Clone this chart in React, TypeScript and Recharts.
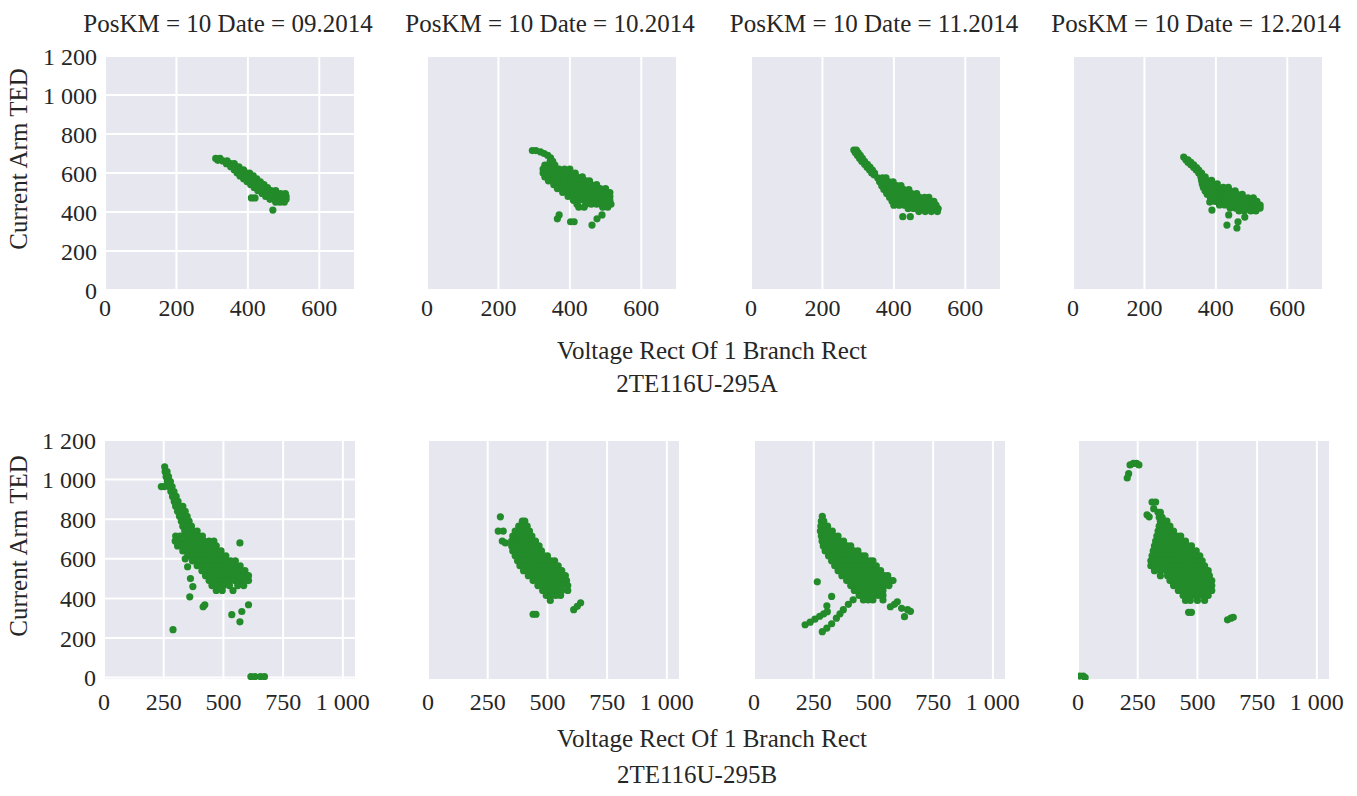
import React from 'react'
import { ScatterChart, Scatter, XAxis, YAxis, CartesianGrid } from 'recharts'

// rows are [y, [x, x, ...]]
type Row = [number, number[]]

const titles = ['PosKM = 10 Date = 09.2014', 'PosKM = 10 Date = 10.2014', 'PosKM = 10 Date = 11.2014', 'PosKM = 10 Date = 12.2014']
const yTicks = [0, 200, 400, 600, 800, 1000, 1200]
const xTicksA = [0, 200, 400, 600]
const xTicksB = [0, 250, 500, 750, 1000]

// --- 2TE116U-295A ---
const sep14A: Row[] = [
  [675, [310, 322]], [665, [316]], [662, [330, 342]], [648, [340, 352, 362]], [632, [352, 365, 375]],
  [616, [362, 375, 388]], [600, [370, 383, 396, 405]], [585, [378, 391, 404, 415]],
  [570, [388, 400, 413, 425]], [555, [398, 410, 422, 435]], [540, [408, 420, 433, 445]],
  [525, [418, 430, 443, 455]], [510, [428, 440, 453, 465, 478]],
  [495, [440, 452, 465, 478, 492, 505]], [480, [450, 462, 475, 488, 500, 507]],
  [465, [462, 475, 488, 500, 507]], [450, [478, 490, 502]],
  [472, [410, 420]], [410, [470]],
]

const oct14A: Row[] = [
  [715, [295, 305]], [708, [318]], [700, [328]], [690, [338]], [678, [346]], [660, [345, 352]],
  [640, [330, 345, 358]],
  [620, [325, 340, 355, 370, 385, 400]],
  [600, [325, 340, 355, 370, 385, 400, 415]],
  [580, [330, 345, 360, 375, 390, 405, 420, 435]],
  [560, [340, 355, 370, 385, 400, 415, 430, 445, 455]],
  [540, [355, 370, 385, 400, 415, 430, 445, 460, 475]],
  [520, [365, 380, 395, 410, 425, 440, 455, 470, 485, 500]],
  [500, [380, 395, 410, 425, 440, 455, 470, 485, 500, 512]],
  [480, [395, 410, 425, 440, 455, 470, 485, 500, 512]],
  [460, [410, 425, 440, 455, 470, 485, 500, 512]],
  [440, [420, 445, 460, 475, 490, 505, 515]],
  [425, [425, 440, 492, 506]],
  [385, [370, 490]], [365, [365, 476]], [350, [402, 412]], [333, [462]],
]

const nov14A: Row[] = [
  [718, [288, 295]], [705, [292, 300]], [690, [298, 306]], [675, [304, 312]], [660, [310, 318]],
  [645, [318, 326]], [630, [325, 333]], [615, [332, 340]], [600, [338, 346]], [590, [345]],
  [575, [355, 368, 378]],
  [555, [360, 373, 386, 398]],
  [535, [366, 380, 394, 408, 420]],
  [515, [372, 386, 400, 414, 428, 442]],
  [495, [380, 394, 408, 422, 436, 450, 464]],
  [475, [388, 402, 416, 430, 444, 458, 472, 486, 498]],
  [455, [395, 410, 425, 440, 455, 470, 485, 500, 512]],
  [435, [400, 415, 430, 445, 460, 475, 490, 505, 518]],
  [418, [440, 455, 470, 485, 500, 512, 524]],
  [402, [470, 488, 505, 522]],
  [376, [425, 446]],
]

const dec14A: Row[] = [
  [682, [310]], [668, [316, 322]], [655, [322, 330]], [642, [330, 338]], [628, [338, 346]],
  [615, [345, 352]], [600, [352, 360]],
  [580, [358, 370]],
  [562, [360, 374, 388]],
  [544, [362, 376, 390, 404]],
  [526, [365, 379, 393, 407, 421, 435]],
  [508, [370, 384, 398, 412, 426, 440, 454]],
  [490, [376, 390, 404, 418, 432, 446, 460, 474]],
  [472, [385, 400, 415, 430, 445, 460, 475, 490, 505]],
  [454, [398, 412, 426, 440, 455, 470, 485, 500, 515]],
  [436, [410, 425, 440, 455, 470, 485, 500, 515, 524]],
  [420, [440, 455, 470, 485, 500, 515, 524]],
  [405, [465, 480, 498, 512]],
  [451, [383]], [410, [389]], [385, [436]], [374, [481]], [350, [462]], [333, [431]], [318, [459]],
]

// --- 2TE116U-295B ---
const sep14B: Row[] = [
  [1065, [254]], [1040, [256, 264]], [1015, [260, 270]], [990, [265, 278]],
  [965, [240, 252, 272, 285]], [940, [280, 293]], [915, [287, 302]], [890, [294, 310]],
  [865, [300, 316, 330]], [840, [308, 324, 340]], [815, [316, 332, 348]],
  [790, [324, 340, 356]], [765, [330, 348, 366]], [740, [338, 356, 374, 390]],
  [715, [300, 318, 342, 360, 378, 396, 412]],
  [690, [298, 316, 340, 360, 380, 400, 420, 440, 460]],
  [665, [308, 328, 350, 370, 390, 410, 430, 450, 470]],
  [640, [330, 350, 370, 390, 410, 430, 450, 470, 490]],
  [615, [350, 370, 390, 410, 430, 450, 470, 490, 510]],
  [590, [370, 390, 410, 430, 450, 470, 490, 510, 530, 550]],
  [565, [390, 410, 430, 450, 470, 490, 510, 530, 550, 570]],
  [540, [410, 430, 450, 470, 490, 510, 530, 550, 570, 590]],
  [515, [425, 445, 465, 485, 505, 525, 545, 565, 585, 605]],
  [490, [440, 460, 480, 500, 520, 545, 570, 590, 605]],
  [465, [452, 475, 500, 525, 560, 585]],
  [440, [470, 495, 540]],
  [680, [569]], [600, [340]], [560, [350]], [500, [362]], [460, [372]], [408, [359]],
  [368, [422, 605]], [358, [415]], [334, [577]], [318, [535]], [282, [569]], [242, [289]],
  [5, [615, 632, 655, 672]],
]

const oct14B: Row[] = [
  [812, [303]], [790, [395, 405]],
  [765, [380, 398, 415]],
  [740, [294, 315, 365, 385, 405, 425]],
  [715, [355, 375, 395, 415, 435]],
  [690, [311, 350, 370, 390, 410, 430, 450]],
  [680, [324]],
  [665, [350, 370, 390, 410, 430, 450, 465]],
  [640, [355, 375, 395, 415, 435, 455, 475]],
  [615, [365, 385, 405, 425, 445, 465, 485, 500]],
  [590, [375, 395, 415, 435, 455, 475, 495, 515, 530]],
  [565, [385, 405, 425, 445, 465, 485, 505, 525, 545]],
  [540, [400, 420, 440, 460, 480, 500, 520, 540, 560]],
  [515, [420, 440, 460, 480, 500, 520, 540, 560, 575]],
  [490, [440, 460, 480, 500, 520, 540, 560, 580]],
  [465, [460, 480, 500, 520, 540, 560, 585]],
  [440, [480, 500, 520, 540, 560, 585]],
  [415, [495, 515, 535, 555]],
  [390, [512]],
  [320, [440, 452]], [343, [610]], [360, [625]], [378, [639]],
]

const nov14B: Row[] = [
  [815, [286]], [790, [282, 292]], [765, [280, 295, 308]],
  [740, [278, 295, 312, 328]],
  [715, [282, 300, 318, 336, 352]],
  [690, [285, 303, 322, 340, 358, 375]],
  [665, [290, 310, 330, 350, 370, 390, 405]],
  [640, [298, 318, 338, 358, 378, 398, 418, 435]],
  [615, [312, 332, 352, 372, 392, 412, 432, 452, 465]],
  [590, [325, 345, 365, 385, 405, 425, 445, 465, 485, 498]],
  [565, [338, 358, 378, 398, 418, 438, 458, 478, 498, 512]],
  [540, [352, 372, 392, 412, 432, 452, 472, 492, 512, 530]],
  [515, [368, 388, 408, 428, 448, 468, 488, 508, 528, 545, 560]],
  [490, [388, 408, 428, 448, 468, 488, 508, 528, 548, 568, 582]],
  [465, [405, 425, 445, 465, 485, 505, 525, 545, 565]],
  [440, [420, 440, 460, 480, 500, 520, 540]],
  [415, [440, 460, 480, 500, 520, 540]],
  [392, [458, 478, 498, 540]],
  [484, [265]], [410, [325]], [363, [305]],
  [267, [214]], [280, [235]], [295, [255]], [310, [275]], [322, [292, 360]], [333, [307]],
  [232, [286]], [250, [305]], [272, [325]], [300, [345]], [343, [374, 643]], [370, [395, 588]], [393, [415]],
  [358, [571]], [383, [600]], [350, [618]], [308, [630]], [335, [655]],
]

const dec14B: Row[] = [
  [1082, [232, 245]], [1074, [218, 255]], [1030, [212]], [1008, [206]],
  [887, [310, 325]], [853, [317]], [822, [289]], [812, [298]],
  [835, [335, 345]], [810, [340, 352]],
  [790, [345, 360, 372]],
  [765, [340, 355, 370, 385]],
  [740, [335, 350, 365, 380, 400]],
  [715, [330, 345, 360, 375, 395, 415, 430]],
  [690, [325, 340, 355, 375, 395, 415, 435, 450]],
  [665, [320, 340, 360, 380, 400, 420, 440, 460, 475]],
  [640, [315, 335, 355, 375, 395, 415, 435, 455, 475, 495]],
  [615, [310, 330, 350, 370, 390, 410, 430, 450, 470, 490, 510]],
  [590, [305, 325, 345, 365, 385, 405, 425, 445, 465, 485, 505, 520]],
  [565, [305, 325, 350, 370, 390, 410, 430, 450, 470, 490, 510, 530]],
  [540, [320, 345, 370, 390, 410, 430, 450, 470, 490, 510, 530, 545]],
  [515, [345, 375, 395, 415, 435, 455, 475, 495, 515, 535, 550]],
  [490, [385, 405, 425, 445, 465, 485, 505, 525, 545, 560]],
  [465, [400, 420, 440, 460, 480, 500, 520, 540, 560]],
  [440, [420, 440, 460, 480, 500, 520, 540, 560]],
  [415, [440, 460, 480, 500, 520, 545]],
  [390, [450, 470, 500, 530]],
  [330, [463, 475]], [292, [626]], [300, [640]], [305, [650]],
  [8, [8, 22]], [0, [30]],
]

const BG = '#e6e7ef'
const GREEN = '#238b2a'
const INK = '#262626'
const FONT = '"Liberation Serif", "Times New Roman", serif'

const toPoints = (rows: Row[]) => rows.flatMap(([y, xs]) => xs.map((x) => ({ x, y })))

const fmt = (v: number) => (v >= 1000 ? `${Math.floor(v / 1000)} ${String(v % 1000).padStart(3, '0')}` : String(v))

const Dot = (props: any) => <circle cx={props.cx} cy={props.cy} r={3.6} fill={GREEN} />

interface PanelProps {
  rows: Row[]
  left: number
  top: number
  w: number
  h: number
  xDomain: [number, number]
  xTicks: number[]
  yDomain: [number, number]
  showY: boolean
  xTickMargin: number
}

const ML = 100
const MT = 20
const MR = 34
const MB = 46
const TICK = { fill: INK, fontSize: 24, fontFamily: FONT }

function Panel({ rows, left, top, w, h, xDomain, xTicks, yDomain, showY, xTickMargin }: PanelProps) {
  return (
    <div style={{ position: 'absolute', left: left - ML, top: top - MT }}>
      <ScatterChart width={w + ML + MR} height={h + MT + MB} margin={{ top: MT, right: MR, bottom: 0, left: 0 }}>
        <CartesianGrid fill={BG} stroke="#ffffff" strokeWidth={2} />
        <XAxis
          type="number"
          dataKey="x"
          domain={xDomain}
          ticks={xTicks}
          interval={0}
          allowDataOverflow
          height={MB}
          axisLine={false}
          tickLine={false}
          tickMargin={xTickMargin}
          tickFormatter={fmt}
          tick={TICK}
        />
        <YAxis
          type="number"
          dataKey="y"
          domain={yDomain}
          ticks={yTicks}
          interval={0}
          allowDataOverflow
          width={ML}
          axisLine={false}
          tickLine={false}
          tickFormatter={fmt}
          tick={showY ? TICK : false}
        />
        <Scatter data={toPoints(rows)} fill={GREEN} shape={Dot} isAnimationActive={false} />
      </ScatterChart>
    </div>
  )
}

const Label = ({ x, y, text, size = 25, rotate = false }: { x: number; y: number; text: string; size?: number; rotate?: boolean }) => (
  <div
    style={{
      position: 'absolute',
      left: x,
      top: y,
      transform: `translate(-50%, -50%)${rotate ? ' rotate(-90deg)' : ''}`,
      whiteSpace: 'nowrap',
      fontSize: size,
      lineHeight: 1,
      color: INK,
      fontFamily: FONT,
    }}
  >
    {text}
  </div>
)

const topLefts = [105, 427, 751, 1073]
const botLefts = [104, 428, 754, 1078]
const topRows = [sep14A, oct14A, nov14A, dec14A]
const botRows = [sep14B, oct14B, nov14B, dec14B]

export default function App() {
  return (
    <div style={{ position: 'absolute', left: 0, top: 0, width: 1357, height: 796, background: '#fff', overflow: 'hidden', fontFamily: FONT }}>
      {titles.map((t, i) => (
        <Label key={t} x={topLefts[i] + 123} y={23} text={t} />
      ))}
      {topRows.map((rows, i) => (
        <Panel key={'a' + i} rows={rows} left={topLefts[i]} top={56} w={250} h={234}
          xDomain={[0, 700]} xTicks={xTicksA} yDomain={[0, 1200]} showY={i === 0} xTickMargin={3} />
      ))}
      {botRows.map((rows, i) => (
        <Panel key={'b' + i} rows={rows} left={botLefts[i]} top={440} w={252} h={240}
          xDomain={[0, 1055]} xTicks={xTicksB} yDomain={[-12, 1200]} showY={i === 0} xTickMargin={7} />
      ))}
      <Label x={18} y={159} text="Current Arm TED" rotate />
      <Label x={18} y={546} text="Current Arm TED" rotate />
      <Label x={712} y={350} text="Voltage Rect Of 1 Branch Rect" />
      <Label x={697} y={383} text="2TE116U-295A" />
      <Label x={712} y={738} text="Voltage Rect Of 1 Branch Rect" />
      <Label x={697} y={774} text="2TE116U-295B" />
    </div>
  )
}
